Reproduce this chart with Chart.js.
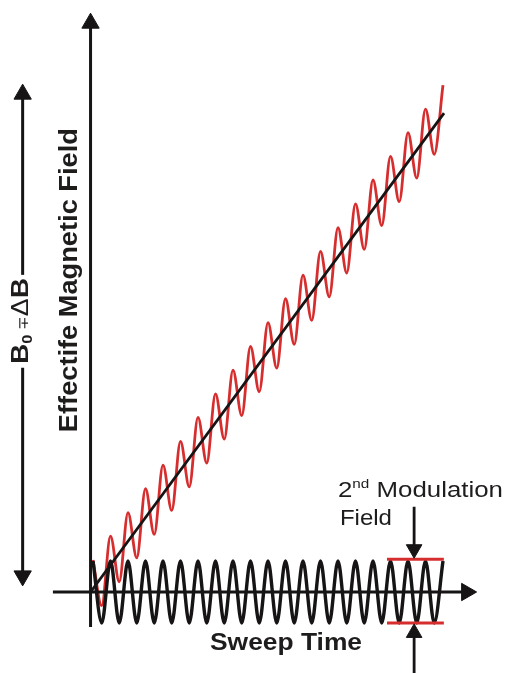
<!DOCTYPE html>
<html>
<head>
<meta charset="utf-8">
<script src="https://cdn.jsdelivr.net/npm/chart.js@4/dist/chart.umd.min.js"></script>
<style>
  body { margin: 0; background: #ffffff; }
  #wrap { width: 510px; height: 673px; }
</style>
</head>
<body>
<div id="wrap"><canvas id="sweepChart" width="510" height="673"></canvas></div>
<script>
// Sweep time in modulation periods (peaks and troughs)
const sweepTime = [0, 0.5, 1, 1.5, 2, 2.5, 3, 3.5, 4, 4.5, 5, 5.5, 6, 6.5, 7, 7.5, 8, 8.5, 9, 9.5,
    10, 10.5, 11, 11.5, 12, 12.5, 13, 13.5, 14, 14.5, 15, 15.5, 16, 16.5, 17, 17.5, 18, 18.5, 19, 19.5, 20];

// 2nd modulation field (black wave on the time axis)
const modulationField = [1, -1, 1, -1, 1, -1, 1, -1, 1, -1, 1, -1, 1, -1, 1, -1, 1, -1, 1, -1,
    1, -1, 1, -1, 1, -1, 1, -1, 1, -1, 1, -1, 1, -1, 1, -1, 1, -1, 1, -1, 1];

// Effective magnetic field (red wave = sweep + modulation)
const effectiveField = [1.03, -0.44, 1.80, 0.33, 2.56, 1.10, 3.33, 1.86, 4.09, 2.63,
    4.86, 3.39, 5.63, 4.16, 6.39, 4.93, 7.16, 5.69, 7.92, 6.46,
    8.69, 7.22, 9.46, 7.99, 10.22, 8.76, 10.99, 9.52, 11.75, 10.29,
    12.52, 11.05, 13.29, 11.82, 14.05, 12.59, 14.82, 13.35, 15.58, 14.12, 16.35];

// Linear field sweep (black straight line)
const rampTime = [-0.14, 20.06];
const rampField = [0, 15.45];

// Axes and annotation guides, in the same units
const yAxisTime = [-0.14, -0.14];
const yAxisField = [-1.13, 18.35];
const xAxisTime = [-2.29, 21.35];
const xAxisField = [0, 0];
const deltaTime = [-4.02, -4.02];
const deltaUpper = [10.23, 16.06];
const deltaLower = [7.23, 0.52];
const barTime = [16.8, 20.05];
const barTop = [1.06, 1.06];
const barBottom = [-1.0, -1.0];
const markTime = [18.35, 18.35];
const markDown = [2.75, 1.38];
const markUp = [-2.8, -1.32];

const ink = '#161414';
const red = '#d62e2e';
const textColor = '#1f1c1c';

function pts(xs, ys) {
    return xs.map((x, i) => ({ x: x, y: ys[i] }));
}

function arrowSet(xs, ys, rotation, radius, color, width) {
    return {
        data: pts(xs, ys),
        borderColor: color,
        borderWidth: width,
        pointRadius: [0, radius],
        pointStyle: 'triangle',
        rotation: rotation,
        pointBackgroundColor: color,
        pointBorderColor: color,
        pointBorderWidth: 1
    };
}

function lineSet(xs, ys, color, width, smooth) {
    return {
        data: pts(xs, ys),
        borderColor: color,
        borderWidth: width,
        pointRadius: 0,
        cubicInterpolationMode: smooth ? 'monotone' : 'default'
    };
}

// Text labels, positioned in data units
const diagramLabels = [
    { runs: [{ text: 'Effectife Magnetic Field', size: 26, bold: true }],
      x: -0.91, y: 10.06, rotate: -90, length: 304, align: 'center' },
    { runs: [{ text: 'B', size: 24, bold: true }, { text: '0', size: 14, bold: true, dy: 4 },
             { text: ' \u2213', size: 14 }, { text: '\u0394', size: 23 }, { text: 'B', size: 24, bold: true }],
      x: -3.71, y: 8.74, rotate: -90, length: 86, align: 'center' },
    { runs: [{ text: 'Sweep Time', size: 23, bold: true }],
      x: 11.03, y: -1.87, length: 152, align: 'center' },
    { runs: [{ text: '2', size: 22 }, { text: 'nd', size: 13, dy: -9 }, { text: ' Modulation', size: 22 }],
      x: 14.0, y: 3.07, length: 165, align: 'left' },
    { runs: [{ text: 'Field', size: 22 }],
      x: 14.11, y: 2.16, length: 52, align: 'left' }
];

function fontOf(run) {
    return (run.bold ? 'bold ' : '') + run.size + 'px "Liberation Sans", Arial, sans-serif';
}

const labelPlugin = {
    id: 'diagramLabels',
    afterDatasetsDraw(chart) {
        const ctx = chart.ctx;
        const xs = chart.scales.x;
        const ys = chart.scales.y;
        diagramLabels.forEach(lb => {
            let total = 0;
            const widths = lb.runs.map(r => {
                ctx.font = fontOf(r);
                const w = ctx.measureText(r.text).width;
                total += w;
                return w;
            });
            ctx.save();
            ctx.translate(xs.getPixelForValue(lb.x), ys.getPixelForValue(lb.y));
            ctx.rotate((lb.rotate || 0) * Math.PI / 180);
            ctx.scale(lb.length / total, 1);
            ctx.fillStyle = textColor;
            ctx.textBaseline = 'alphabetic';
            let cx = lb.align === 'center' ? -total / 2 : 0;
            lb.runs.forEach((r, i) => {
                ctx.font = fontOf(r);
                ctx.fillText(r.text, cx, r.dy || 0);
                cx += widths[i];
            });
            ctx.restore();
        });
    }
};

const ctx = document.getElementById('sweepChart').getContext('2d');

new Chart(ctx, {
    type: 'line',
    data: {
        datasets: [
            lineSet(rampTime, rampField, ink, 2.8, false),
            arrowSet(yAxisTime, yAxisField, 0, 10, ink, 3),
            arrowSet(xAxisTime, xAxisField, 90, 10, ink, 3),
            arrowSet(deltaTime, deltaUpper, 0, 10, ink, 3),
            arrowSet(deltaTime, deltaLower, 180, 10, ink, 3),
            arrowSet(markTime, markDown, 180, 9, ink, 2.8),
            arrowSet(markTime, markUp, 0, 9, ink, 2.8),
            lineSet(barTime, barTop, red, 3, false),
            lineSet(barTime, barBottom, red, 3, false),
            lineSet(sweepTime, modulationField, ink, 3.4, true),
            lineSet(sweepTime, effectiveField, red, 2.8, true)
        ]
    },
    options: {
        responsive: false,
        animation: false,
        events: [],
        layout: { padding: 0, autoPadding: false },
        datasets: { line: { clip: false } },
        plugins: {
            legend: { display: false },
            tooltip: { enabled: false }
        },
        scales: {
            x: { type: 'linear', min: -5.314, max: 23.829, display: false },
            y: { type: 'linear', min: -2.613, max: 19.097, display: false }
        }
    },
    plugins: [labelPlugin]
});
</script>
</body>
</html>
